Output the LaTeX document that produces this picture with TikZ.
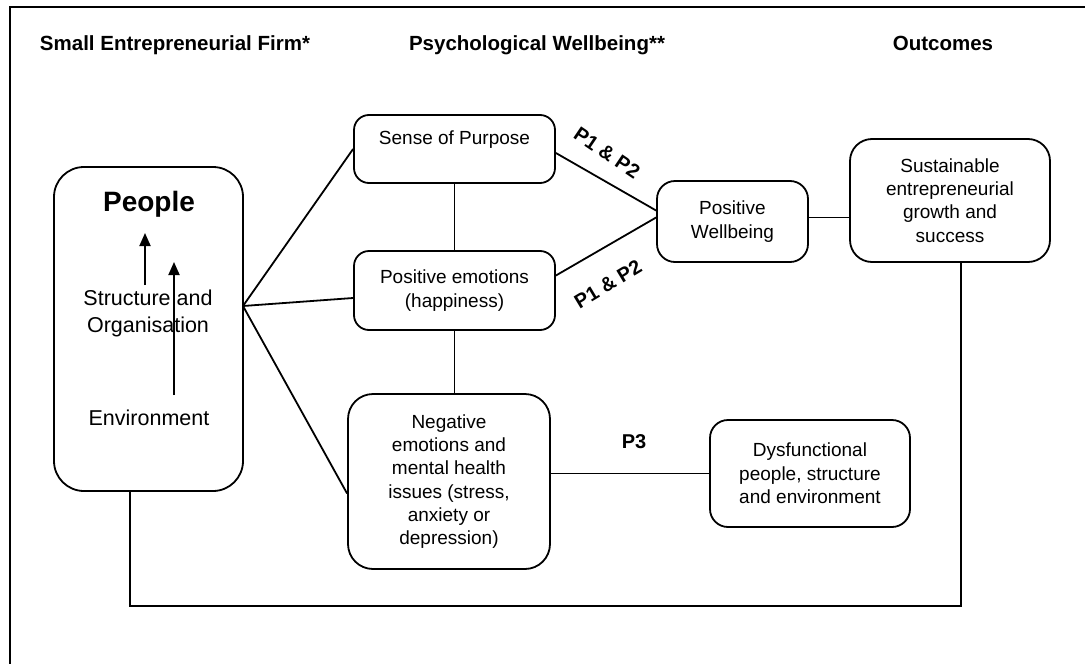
\documentclass[tikz,border=0pt]{standalone}
\usepackage{fontspec}
\setmainfont{Liberation Sans}
\usetikzlibrary{arrows.meta}
\begin{document}
\begin{tikzpicture}[x=1pt,y=-1pt,
  line width=1.8pt,
  box/.style={draw, rounded corners=#1, align=center, inner sep=0pt,
    font=\fontsize{19}{23.3}\selectfont},
  box/.default=15pt,
  bodyfont/.style={font=\fontsize{19}{23.3}\selectfont},
  ttl/.style={font=\fontsize{20.5}{25}\selectfont\bfseries, anchor=base},
  ptext/.style={font=\fontsize{21.5}{27}\selectfont, align=center},
  plab/.style={font=\fontsize{20}{24}\selectfont\bfseries},
  arr/.style={-{Triangle[length=13pt,width=11pt]}, line width=1.8pt}
]
\useasboundingbox (0,0) rectangle (1085,664);
\fill[white] (0,0) rectangle (1085,664);
\coordinate (fbl) at (10,664);
\coordinate (ftl) at (10,7);
\coordinate (ftr) at (1085,7);
\draw[line width=2.2pt] (fbl) -- (ftl) -- (ftr);

% titles
\node[ttl] (t1) at (175,50.5) {Small Entrepreneurial Firm*};
\node[ttl] (t2) at (537,50.5) {Psychological Wellbeing**};
\node[ttl] (t3) at (943,50.5) {Outcomes};

% boxes
\node[box=30pt, minimum width=189pt, minimum height=324pt] (people) at (148.5,329) {};
\node[box, minimum width=201pt, minimum height=68pt,
  label={[bodyfont, yshift=9pt]center:Sense of Purpose}] (sense) at (454.5,149) {};
\node[box, minimum width=201pt, minimum height=79pt] (pos) at (454.5,290.5) {Positive emotions\\(happiness)};
\node[box=25pt, minimum width=202pt, minimum height=175pt] (neg) at (449,481.5)
  {Negative\\emotions and\\mental health\\issues (stress,\\anxiety or\\depression)};
\node[box=18pt, minimum width=200pt, minimum height=107pt] (dys) at (810,473.5)
  {Dysfunctional\\people, structure\\and environment};
\node[box=18pt, minimum width=151pt, minimum height=81pt] (pw) at (732.5,221.5) {Positive\\Wellbeing};
\node[box=22pt, minimum width=200pt, minimum height=123pt] (sust) at (950,200.5)
  {Sustainable\\entrepreneurial\\growth and\\success};

% people box content
\node[font=\fontsize{28}{32}\selectfont\bfseries] (ptitle) at (149,204) {People};
\node[ptext] (struct) at (148,313.5) {Structure and\\Organisation};
\node[ptext] (env) at (149,418) {Environment};
\coordinate (a1s) at (145,285);
\coordinate (a1e) at (145,233);
\coordinate (a2s) at (174,395);
\coordinate (a2e) at (174,262);
\draw[arr] (a1s) -- (a1e);
\draw[arr] (a2s) -- (a2e);

% connectors
\coordinate (pe) at (243,306);
\draw (pe) -- (sense.west);
\draw (pe) -- ([yshift=-7.5pt]pos.west);
\draw (pe) -- ([yshift=-12pt]neg.west);
\draw (sense.south) -- (sense.south |- pos.north);
\draw (pos.south) -- (pos.south |- neg.north);
\draw (dys.west -| neg.east) -- (dys.west);
\draw ([yshift=-4pt]sense.east) -- ([yshift=11pt]pw.west);
\draw ([yshift=15pt]pos.east) -- ([yshift=4pt]pw.west);
\draw ([yshift=4pt]pw.east) -- ([yshift=4pt]pw.east -| sust.west);
\draw ([xshift=-18.5pt]people.south) -- ++(0,114) -| ([xshift=11pt]sust.south);

% labels
\node[plab, rotate=-34] (l1) at (607,153) {P1 \& P2};
\node[plab, rotate=31] (l2) at (608,284) {P1 \& P2};
\node[plab] (l3) at (634,442) {P3};
\end{tikzpicture}
\end{document}
